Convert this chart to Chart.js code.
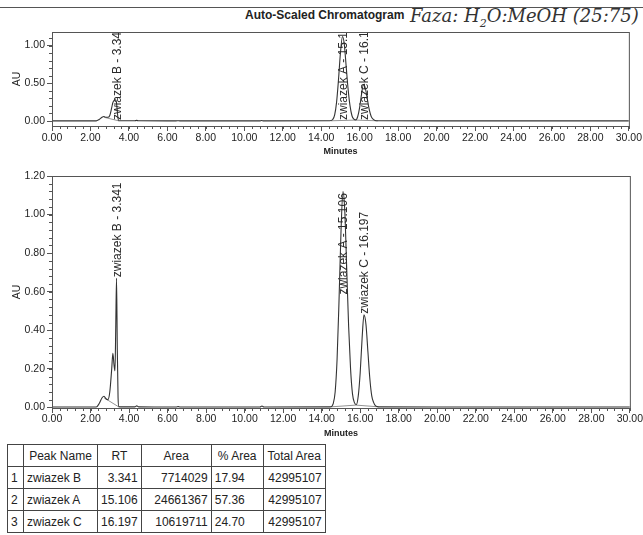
<!DOCTYPE html>
<html>
<head>
<meta charset="utf-8">
<script src="https://cdn.jsdelivr.net/npm/chart.js@4"></script>
<style>
  body { margin: 0; background: #fff; width: 643px; height: 535px; overflow: hidden; position: relative; font-family: "Liberation Sans", Arial, sans-serif; color: #222; }
  .rule { position: absolute; left: 0; top: 7px; width: 643px; height: 0; border-top: 1.5px solid #555; }
  .title { position: absolute; left: 245px; top: 8px; font-size: 12px; font-weight: bold; }
  .hand { position: absolute; left: 410px; top: 5px; font-family: "DejaVu Serif", serif; font-style: italic; font-size: 18px; color: #333; letter-spacing: 0; }
  canvas { position: absolute; left: 0; }
  #overview { top: 0; }
  #detail { top: 160px; }
  table { position: absolute; left: 7px; top: 444px; border-collapse: collapse; table-layout: fixed; font-size: 12px; }
  td, th { border: 1px solid #444; height: 22px; padding: 0 3px; font-weight: normal; white-space: nowrap; overflow: hidden; box-sizing: border-box; }
  th { text-align: center; }
  td.num { text-align: right; }
</style>
</head>
<body>
<div class="rule"></div>
<div class="title">Auto-Scaled Chromatogram</div>
<div class="hand">Faza: H<sub style="font-size:11px">2</sub>O:MeOH (25:75)</div>
<canvas id="overview" width="643" height="160"></canvas>
<canvas id="detail" width="643" height="280"></canvas>
<table id="peaks"></table>
<script>
// trace (minutes, AU)
const minutes = [0, 1.0, 2.3, 2.45, 2.6, 2.7, 2.8, 2.9, 3.0, 3.1, 3.16, 3.22, 3.27, 3.31, 3.35, 3.39, 3.43, 3.47, 3.6, 4.3,
  4.4, 4.5, 6.45, 6.55, 6.65, 10.8, 10.9, 11.0, 14.45, 14.6, 14.7, 14.8, 14.9, 15.0, 15.106, 15.2, 15.3, 15.4, 15.5, 15.6,
  15.7, 15.8, 15.9, 16.0, 16.1, 16.197, 16.3, 16.4, 16.5, 16.6, 16.7, 16.8, 16.95, 20, 30]
const detailAU = [0.002, 0.002, 0.002, 0.02, 0.05, 0.058, 0.045, 0.04, 0.08, 0.2, 0.28, 0.22, 0.19, 0.42, 0.67, 0.3, 0.05, 0.004, 0.003, 0.003,
  0.008, 0.003, 0.002, 0.004, 0.002, 0.002, 0.007, 0.002, 0.003, 0.02, 0.08, 0.25, 0.55, 0.9, 1.12, 1.02, 0.72, 0.42, 0.2, 0.07,
  0.025, 0.015, 0.06, 0.18, 0.36, 0.48, 0.43, 0.29, 0.15, 0.06, 0.025, 0.008, 0.003, 0.002, 0.002]
// the overview plot is coarser, the spike of B does not show there
const overviewAU = [0.002, 0.002, 0.002, 0.02, 0.05, 0.06, 0.05, 0.05, 0.07, 0.17, 0.24, 0.27, 0.28, 0.28, 0.25, 0.15, 0.04, 0.004, 0.003, 0.003,
  0.008, 0.003, 0.002, 0.004, 0.002, 0.002, 0.007, 0.002, 0.003, 0.02, 0.08, 0.25, 0.55, 0.9, 1.12, 1.02, 0.72, 0.42, 0.2, 0.07,
  0.025, 0.015, 0.06, 0.18, 0.36, 0.48, 0.43, 0.29, 0.15, 0.06, 0.025, 0.008, 0.003, 0.002, 0.002]

// integration baselines (null = gap)
const baseMinutes = [2.7, 3.46, 3.5, 14.5, 15.78, 16.95]
const baseAU = [0.05, 0.003, null, 0.003, 0.012, 0.003]

// peak table
const peakNames = ["zwiazek B", "zwiazek A", "zwiazek C"]
const peakRT = [3.341, 15.106, 16.197]
const peakArea = [7714029, 24661367, 10619711]
const peakPctArea = ["17.94", "57.36", "24.70"]
const totalArea = 42995107
// where the rotated peak labels start on the detail plot (AU)
const labelAtAU = [0.67, 0.58, 0.48]

// axis ticks
const minuteTicks = [0, 2, 4, 6, 8, 10, 12, 14, 16, 18, 20, 22, 24, 26, 28, 30]
const overviewAUTicks = [0, 0.5, 1.0]
const detailAUTicks = [0, 0.2, 0.4, 0.6, 0.8, 1.0, 1.2]

const INK = "#555"
const TRACE = "#333"
const FONT = "'Liberation Sans', Arial, sans-serif"

const tbl = document.getElementById("peaks")
tbl.innerHTML =
  '<colgroup><col style="width:16px"><col style="width:74px"><col style="width:42px">' +
  '<col style="width:70px"><col style="width:52px"><col style="width:62px"></colgroup>' +
  '<tr><th></th><th>Peak Name</th><th>RT</th><th>Area</th><th>% Area</th><th>Total Area</th></tr>' +
  peakNames.map((n, i) =>
    `<tr><td>${i + 1}</td><td>${n}</td><td class="num">${peakRT[i].toFixed(3)}</td>` +
    `<td class="num">${peakArea[i]}</td><td>${peakPctArea[i]}</td><td class="num">${totalArea}</td></tr>`
  ).join("")

// frame round the plot area plus short minor ticks
const framePlugin = {
  id: "frame",
  afterDraw(chart, args, opts) {
    const { ctx, chartArea: a, scales } = chart
    ctx.save()
    ctx.strokeStyle = INK
    ctx.lineWidth = 1
    ctx.strokeRect(a.left + 0.5, a.top + 0.5, a.right - a.left, a.bottom - a.top)
    ctx.beginPath()
    for (let v = 0; v <= 30.001; v += 0.4) {
      const x = Math.round(scales.x.getPixelForValue(v)) + 0.5
      ctx.moveTo(x, a.bottom)
      ctx.lineTo(x, a.bottom + 3)
    }
    for (let v = 0; v <= scales.y.max + 1e-6; v += opts.yMinor) {
      const y = Math.round(scales.y.getPixelForValue(v)) + 0.5
      ctx.moveTo(a.left, y)
      ctx.lineTo(a.left - 3, y)
    }
    ctx.stroke()
    ctx.restore()
  }
}

const peakLabelPlugin = {
  id: "peakLabels",
  afterDatasetsDraw(chart, args, opts) {
    const { ctx, chartArea: a, scales } = chart
    ctx.save()
    ctx.beginPath()
    ctx.rect(a.left, a.top, a.right - a.left, a.bottom - a.top)
    ctx.clip()
    ctx.font = "12px " + FONT
    ctx.fillStyle = "#2a2a2a"
    ctx.textAlign = "left"
    ctx.textBaseline = "middle"
    peakNames.forEach((n, i) => {
      const x = scales.x.getPixelForValue(peakRT[i]) + 1
      const y = scales.y.getPixelForValue(opts.at[i]) - 1
      ctx.save()
      ctx.translate(x, y)
      ctx.rotate(-Math.PI / 2)
      ctx.fillText(`${n} - ${peakRT[i].toFixed(3)}`, 0, 0)
      ctx.restore()
    })
    ctx.restore()
  }
}

function makeChart(id, values, cfg) {
  return new Chart(document.getElementById(id), {
    type: "line",
    data: {
      datasets: [
        {
          data: minutes.map((t, i) => ({ x: t, y: values[i] })),
          borderColor: TRACE,
          borderWidth: 1.1,
          pointRadius: 0,
          cubicInterpolationMode: "monotone",
          fill: false,
        },
        {
          data: baseMinutes.map((t, i) => ({ x: t, y: baseAU[i] })),
          borderColor: "#777",
          borderWidth: 0.8,
          pointRadius: 0,
          spanGaps: false,
          fill: false,
        }
      ]
    },
    options: {
      responsive: false,
      animation: false,
      devicePixelRatio: 1,
      layout: { padding: { top: cfg.top, right: 11, left: 0, bottom: 0 } },
      plugins: {
        legend: { display: false },
        tooltip: { enabled: false },
        frame: { yMinor: cfg.yMinor },
        peakLabels: { at: cfg.labelAt },
      },
      scales: {
        x: {
          type: "linear",
          min: 0,
          max: 30,
          afterBuildTicks: (s) => { s.ticks = minuteTicks.map(v => ({ value: v })) },
          afterFit: (s) => { s.height = cfg.xHeight },
          ticks: {
            callback: (v) => Number(v).toFixed(2),
            autoSkip: false,
            maxRotation: 0,
            padding: cfg.xTickPad,
            color: "#222",
            font: { family: FONT, size: 10.5 },
          },
          grid: { drawOnChartArea: false, tickLength: 5, color: INK },
          border: { color: INK },
          title: {
            display: true,
            text: "Minutes",
            color: "#222",
            font: { family: FONT, size: 9, weight: "bold" },
            padding: { top: 0, bottom: cfg.titlePad },
          },
        },
        y: {
          min: cfg.yMin,
          max: cfg.yMax,
          afterBuildTicks: (s) => { s.ticks = cfg.yTicks.map(v => ({ value: v })) },
          afterFit: (s) => { s.width = 52 },
          ticks: {
            callback: (v) => Number(v).toFixed(2),
            padding: 2,
            color: "#222",
            font: { family: FONT, size: 10.5 },
          },
          grid: { drawOnChartArea: false, tickLength: 5, color: INK },
          border: { color: INK },
          title: {
            display: true,
            text: "AU",
            color: "#222",
            font: { family: FONT, size: 10.5 },
            padding: { top: 11, bottom: 0 },
          },
        }
      }
    },
    plugins: [framePlugin, peakLabelPlugin]
  })
}

makeChart("overview", overviewAU, {
  top: 32, xHeight: 34, xTickPad: 1, titlePad: 3,
  yMin: -0.066, yMax: 1.18, yTicks: overviewAUTicks, yMinor: 0.1,
  labelAt: [0, 0, 0],
})

makeChart("detail", detailAU, {
  top: 16, xHeight: 32, xTickPad: 0, titlePad: 1,
  yMin: -0.003, yMax: 1.2, yTicks: detailAUTicks, yMinor: 0.04,
  labelAt: labelAtAU,
})
</script>
</body>
</html>
